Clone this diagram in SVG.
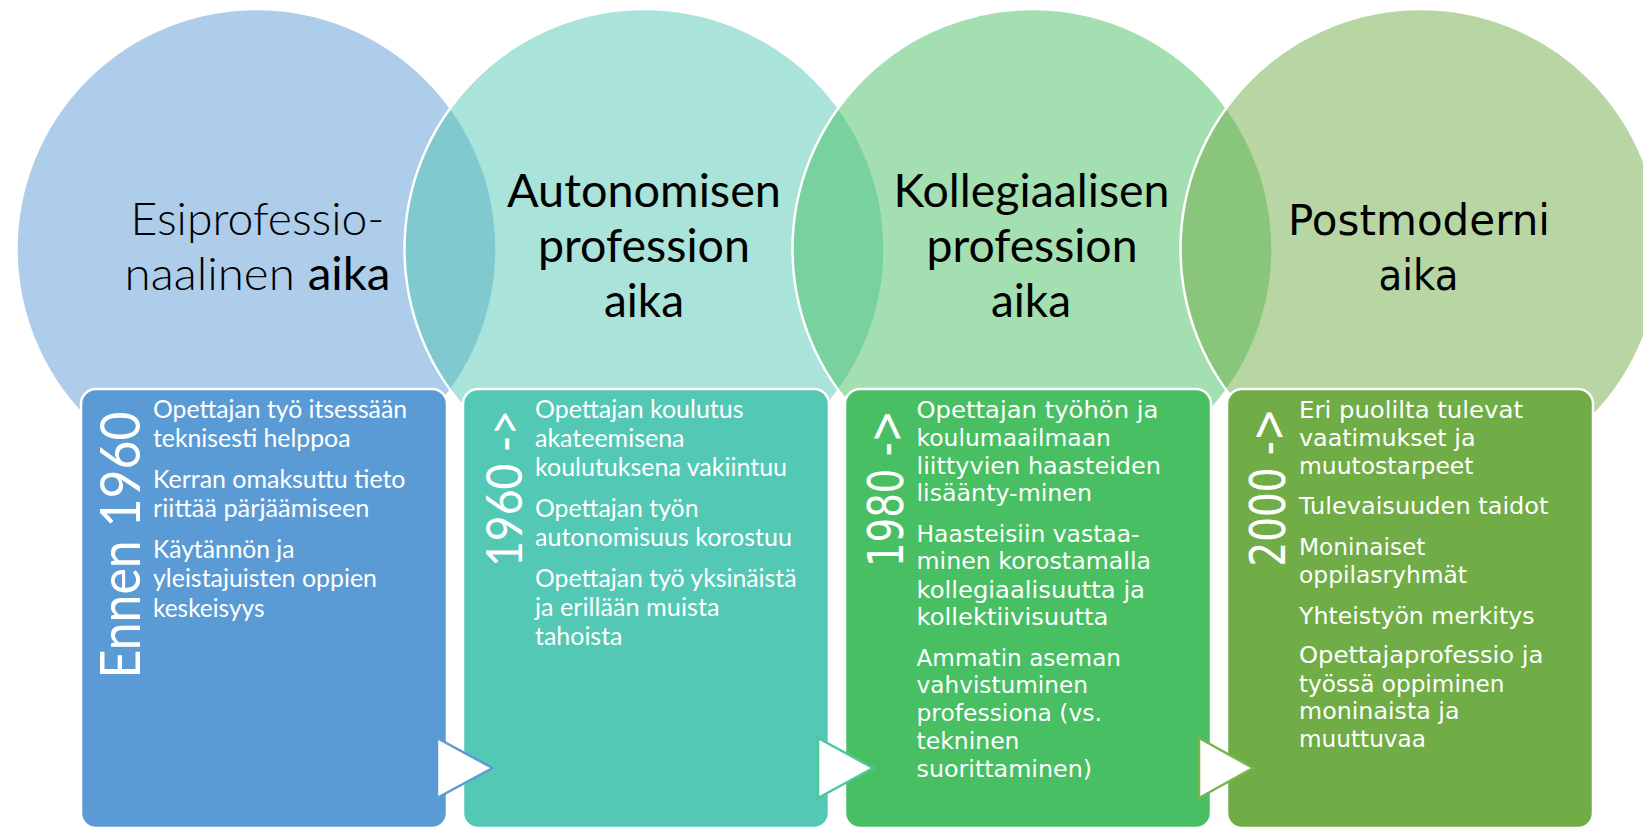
<svg xmlns="http://www.w3.org/2000/svg" width="1643" height="829" viewBox="0 0 1643 829">
<style>
.circ{fill-opacity:0.5;stroke:#ffffff;stroke-width:2.5}
.box{stroke:#ffffff;stroke-width:2.5}
text{lengthAdjust:spacingAndGlyphs}
.title{font-family:Lato,"Liberation Sans",sans-serif;font-size:46px;fill:#000000;text-anchor:middle}
.title4{font-family:"DejaVu Sans",sans-serif;font-size:43.5px;fill:#000000;text-anchor:middle}
.body{font-family:Lato,"Liberation Sans",sans-serif;font-size:24.5px;fill:#ffffff}
.body2{font-family:"DejaVu Sans",sans-serif;font-size:23.5px;fill:#ffffff}
.year{font-family:Lato,"Liberation Sans",sans-serif;fill:#ffffff;text-anchor:end}
.year2{font-family:"DejaVu Sans",sans-serif;fill:#ffffff;text-anchor:end}
.arrow{fill:#ffffff;stroke-width:2.5;stroke-linejoin:miter}
</style>
<rect width="1643" height="829" fill="#ffffff"/>

<g id="circle-esiprofessionaalinen">
<circle class="circ" cx="256.5" cy="249" r="240" fill="#5B9BD5"/>
<text class="title" x="257.5" y="235" font-weight="300" textLength="254" lengthAdjust="spacingAndGlyphs">Esiprofessio-</text>
<text class="title" x="257.5" y="290" textLength="266" lengthAdjust="spacingAndGlyphs"><tspan font-weight="300">naalinen </tspan>aika</text>
</g>
<g id="circle-autonominen">
<circle class="circ" cx="644.5" cy="249" r="240" fill="#53C8B4"/>
<text class="title" x="644" y="207" textLength="274" lengthAdjust="spacingAndGlyphs">Autonomisen</text>
<text class="title" x="644" y="262" textLength="212" lengthAdjust="spacingAndGlyphs">profession</text>
<text class="title" x="644" y="317" textLength="80" lengthAdjust="spacingAndGlyphs">aika</text>
</g>
<g id="circle-kollegiaalinen">
<circle class="circ" cx="1032.5" cy="249" r="240" fill="#48BF63"/>
<text class="title" x="1031.5" y="207" textLength="276" lengthAdjust="spacingAndGlyphs">Kollegiaalisen</text>
<text class="title" x="1032" y="262" textLength="211" lengthAdjust="spacingAndGlyphs">profession</text>
<text class="title" x="1031" y="317" textLength="80" lengthAdjust="spacingAndGlyphs">aika</text>
</g>
<g id="circle-postmoderni">
<circle class="circ" cx="1420.5" cy="249" r="240" fill="#70AD47"/>
<text class="title4" x="1419" y="235" textLength="262" lengthAdjust="spacingAndGlyphs">Postmoderni</text>
<text class="title4" x="1418.5" y="290" textLength="80" lengthAdjust="spacingAndGlyphs">aika</text>
</g>

<g id="box-ennen-1960">
<rect class="box" x="81" y="389" width="366" height="439" rx="15" fill="#5B9BD5"/>
<text class="year" transform="translate(139.5,411.5) rotate(-90)" font-size="57" textLength="267" lengthAdjust="spacingAndGlyphs">Ennen 1960</text>
<text class="body" x="153" y="418" textLength="254" lengthAdjust="spacingAndGlyphs">Opettajan työ itsessään</text>
<text class="body" x="153" y="447" textLength="197.5" lengthAdjust="spacingAndGlyphs">teknisesti helppoa</text>
<text class="body" x="153" y="488" textLength="252.5" lengthAdjust="spacingAndGlyphs">Kerran omaksuttu tieto</text>
<text class="body" x="153" y="517" textLength="216.5" lengthAdjust="spacingAndGlyphs">riittää pärjäämiseen</text>
<text class="body" x="153" y="558" textLength="141.5" lengthAdjust="spacingAndGlyphs">Käytännön ja</text>
<text class="body" x="153" y="587" textLength="224" lengthAdjust="spacingAndGlyphs">yleistajuisten oppien</text>
<text class="body" x="153" y="617" textLength="111.5" lengthAdjust="spacingAndGlyphs">keskeisyys</text>
</g>

<g id="box-1960">
<rect class="box" x="463" y="389" width="366" height="439" rx="15" fill="#53C8B4"/>
<text class="year" transform="translate(521.5,410) rotate(-90)" font-size="51" textLength="157" lengthAdjust="spacingAndGlyphs">1960 -&gt;</text>
<text class="body" x="535" y="418" textLength="208.5" lengthAdjust="spacingAndGlyphs">Opettajan koulutus</text>
<text class="body" x="535" y="447" textLength="149.5" lengthAdjust="spacingAndGlyphs">akateemisena</text>
<text class="body" x="535" y="476" textLength="252" lengthAdjust="spacingAndGlyphs">koulutuksena vakiintuu</text>
<text class="body" x="535" y="517" textLength="163.5" lengthAdjust="spacingAndGlyphs">Opettajan työn</text>
<text class="body" x="535" y="546" textLength="257" lengthAdjust="spacingAndGlyphs">autonomisuus korostuu</text>
<text class="body" x="535" y="587" textLength="261.5" lengthAdjust="spacingAndGlyphs">Opettajan työ yksinäistä</text>
<text class="body" x="535" y="616" textLength="184.5" lengthAdjust="spacingAndGlyphs">ja erillään muista</text>
<text class="body" x="535" y="645" textLength="87.5" lengthAdjust="spacingAndGlyphs">tahoista</text>
</g>

<g id="box-1980">
<rect class="box" x="845" y="389" width="366" height="439" rx="15" fill="#48BF63"/>
<text class="year2" transform="translate(902.5,410) rotate(-90)" font-size="49" textLength="157" lengthAdjust="spacingAndGlyphs">1980 -&gt;</text>
<text class="body2" x="916.5" y="418" textLength="242" lengthAdjust="spacingAndGlyphs">Opettajan työhön ja</text>
<text class="body2" x="916.5" y="446" textLength="194.5" lengthAdjust="spacingAndGlyphs">koulumaailmaan</text>
<text class="body2" x="916.5" y="473.5" textLength="244.5" lengthAdjust="spacingAndGlyphs">liittyvien haasteiden</text>
<text class="body2" x="916.5" y="501" textLength="175.5" lengthAdjust="spacingAndGlyphs">lisäänty-minen</text>
<text class="body2" x="916.5" y="541.7" textLength="223" lengthAdjust="spacingAndGlyphs">Haasteisiin vastaa-</text>
<text class="body2" x="916.5" y="569.3" textLength="234.5" lengthAdjust="spacingAndGlyphs">minen korostamalla</text>
<text class="body2" x="916.5" y="597.7" textLength="228.5" lengthAdjust="spacingAndGlyphs">kollegiaalisuutta ja</text>
<text class="body2" x="916.5" y="625" textLength="192" lengthAdjust="spacingAndGlyphs">kollektiivisuutta</text>
<text class="body2" x="916.5" y="666" textLength="204.5" lengthAdjust="spacingAndGlyphs">Ammatin aseman</text>
<text class="body2" x="916.5" y="693.3" textLength="171.5" lengthAdjust="spacingAndGlyphs">vahvistuminen</text>
<text class="body2" x="916.5" y="721" textLength="185.5" lengthAdjust="spacingAndGlyphs">professiona (vs.</text>
<text class="body2" x="916.5" y="749.3" textLength="103" lengthAdjust="spacingAndGlyphs">tekninen</text>
<text class="body2" x="916.5" y="776.7" textLength="175.5" lengthAdjust="spacingAndGlyphs">suorittaminen)</text>
</g>

<g id="box-2000">
<rect class="box" x="1227" y="389" width="366" height="439" rx="15" fill="#70AD47"/>
<text class="year2" transform="translate(1285,408.5) rotate(-90)" font-size="49" textLength="158" lengthAdjust="spacingAndGlyphs">2000 -&gt;</text>
<text class="body2" x="1299" y="418" textLength="224" lengthAdjust="spacingAndGlyphs">Eri puolilta tulevat</text>
<text class="body2" x="1299" y="446" textLength="176.5" lengthAdjust="spacingAndGlyphs">vaatimukset ja</text>
<text class="body2" x="1299" y="474" textLength="174.5" lengthAdjust="spacingAndGlyphs">muutostarpeet</text>
<text class="body2" x="1299" y="514" textLength="249.5" lengthAdjust="spacingAndGlyphs">Tulevaisuuden taidot</text>
<text class="body2" x="1299" y="555" textLength="126.5" lengthAdjust="spacingAndGlyphs">Moninaiset</text>
<text class="body2" x="1299" y="582.7" textLength="168" lengthAdjust="spacingAndGlyphs">oppilasryhmät</text>
<text class="body2" x="1299" y="624" textLength="235.5" lengthAdjust="spacingAndGlyphs">Yhteistyön merkitys</text>
<text class="body2" x="1299" y="663.3" textLength="244.5" lengthAdjust="spacingAndGlyphs">Opettajaprofessio ja</text>
<text class="body2" x="1299" y="691.7" textLength="205.5" lengthAdjust="spacingAndGlyphs">työssä oppiminen</text>
<text class="body2" x="1299" y="719.3" textLength="160.5" lengthAdjust="spacingAndGlyphs">moninaista ja</text>
<text class="body2" x="1299" y="747.3" textLength="127" lengthAdjust="spacingAndGlyphs">muuttuvaa</text>
</g>

<g id="connectors">
<polygon class="arrow" points="437,738 492.5,768 437,798" stroke="#5B9BD5"/>
<polygon class="arrow" points="818,738 873,768 818,798" stroke="#4EC79A"/>
<polygon class="arrow" points="1199,738 1253,768 1199,798" stroke="#78B550"/>
</g>
</svg>
